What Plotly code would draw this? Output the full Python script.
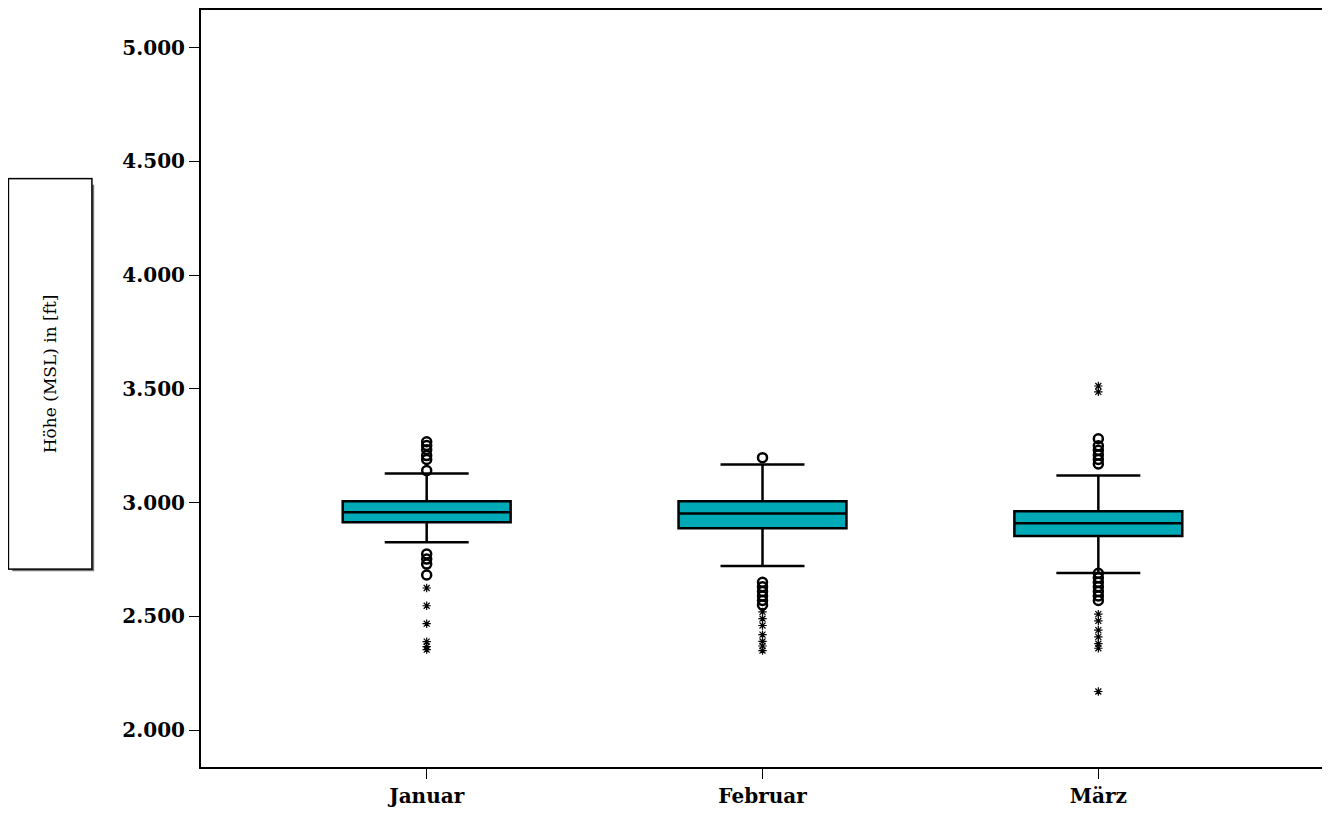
import plotly.graph_objects as go

monate = ["Januar", "Februar", "März"]
q1 = [2914, 2888, 2853]
median = [2958, 2953, 2910]
q3 = [3006, 3006, 2962]
unten = [2826, 2722, 2691]
oben = [3128, 3168, 3120]

# Ausreißer (Kreise) und Extremwerte (Sterne)
kreise = {
    "Januar": [3268, 3251, 3233, 3207, 3190, 3141, 2774, 2752, 2730, 2682],
    "Februar": [3198, 2650, 2630, 2610, 2590, 2570, 2550],
    "März": [3281, 3250, 3230, 3210, 3190, 3170, 2690, 2670, 2650, 2630, 2610, 2590, 2570],
}
sterne = {
    "Januar": [2625, 2547, 2468, 2389, 2367, 2354],
    "Februar": [2520, 2490, 2460, 2420, 2390, 2370, 2350],
    "März": [3513, 3487, 2510, 2480, 2440, 2410, 2380, 2360, 2170],
}

fig = go.Figure()
fig.add_trace(go.Box(
    x=monate, q1=q1, median=median, q3=q3, lowerfence=unten, upperfence=oben,
    fillcolor="#00a9b6", line=dict(color="black", width=2.5),
    width=0.5, whiskerwidth=0.5, boxpoints=False, showlegend=False,
))
for m in monate:
    fig.add_trace(go.Scatter(
        x=[m] * len(kreise[m]), y=kreise[m], mode="markers", showlegend=False,
        marker=dict(symbol="circle-open", size=9, color="black", line=dict(width=2.5)),
    ))
    fig.add_trace(go.Scatter(
        x=[m] * len(sterne[m]), y=sterne[m], mode="markers", showlegend=False,
        marker=dict(symbol="asterisk-open", size=7, color="black", line=dict(width=1.2)),
    ))

font_bold = dict(family="DejaVu Serif", size=20, color="black", weight="bold")
W, H = 1316, 800
L, T, B, R = 193, 2, 36, 0
pw, ph = W - L - R, H - T - B
fig.update_layout(
    width=W, height=H,
    margin=dict(l=L, r=R, t=T, b=B),
    plot_bgcolor="white", paper_bgcolor="white",
    separators=",.",
    xaxis=dict(range=[-0.672, 2.666], showline=True, linecolor="black", linewidth=2,
               mirror=True, ticks="outside", ticklen=10, tickcolor="black",
               tickfont=font_bold, showgrid=False),
    yaxis=dict(range=[1838, 5166], showline=True, linecolor="black", linewidth=2,
               mirror=True, ticks="outside", ticklen=10, tickcolor="black",
               tickvals=[2000, 2500, 3000, 3500, 4000, 4500, 5000], tickformat=",d",
               tickfont=font_bold, showgrid=False, zeroline=False),
    shapes=[
        dict(type="rect", xref="paper", yref="paper",
             x0=(4 - L) / pw, x1=(86 - L) / pw, y0=(H - B - 567) / ph, y1=(H - B - 178) / ph,
             fillcolor="#777777", line=dict(width=0), layer="below"),
    ],
    annotations=[
        dict(text="Höhe (MSL) in [ft]", textangle=-90, xref="paper", yref="paper",
             x=(42 - L) / pw, y=(H - B - 368) / ph, showarrow=False,
             font=dict(family="DejaVu Serif", size=17, color="black"),
             bgcolor="white", bordercolor="black", borderwidth=1.5,
             width=387, height=80, xanchor="center", yanchor="middle"),
    ],
)
fig.write_html("out.html")
